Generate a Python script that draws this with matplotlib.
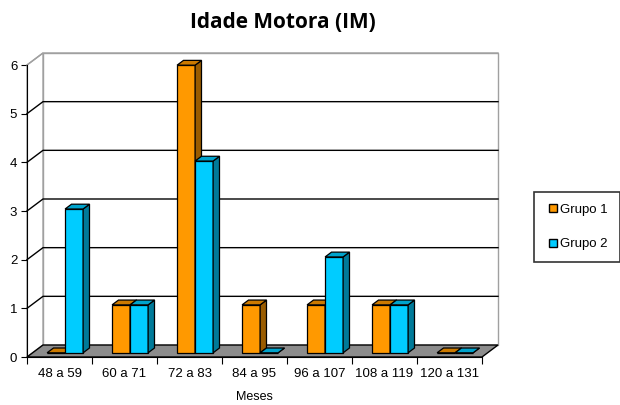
import numpy as np
import matplotlib.pyplot as plt
from matplotlib.patches import Polygon
from matplotlib.lines import Line2D

categorias = ['48 a 59', '60 a 71', '72 a 83', '84 a 95', '96 a 107', '108 a 119', '120 a 131']
grupo1 = [0, 1, 6, 1, 1, 1, 0]
grupo2 = [3, 1, 4, 0, 2, 1, 0]
series = ['Grupo 1', 'Grupo 2']

cores = {'Grupo 1': ('#FF9900', '#CC7A00', '#9A5C00'),
         'Grupo 2': ('#00CCFF', '#00A3CC', '#007A99')}

plt.rcParams['font.family'] = ['Liberation Sans', 'DejaVu Sans']

fig = plt.figure(figsize=(6.2, 4.05), dpi=100)
ax = fig.add_axes([27 / 620, (405 - 357) / 405, 455 / 620, 292 / 405])
n = len(categorias)
ymax = 6
ax.set_xlim(0, n)
ax.set_ylim(0, ymax)

# depth vector of the 3d box (data units)
DX, DY = 16 / 65, 12 / (292 / 6)


def off(x, y, f):
    return (x + f * DX, y + f * DY)


# back wall, side wall, floor
ax.add_patch(Polygon([off(0, 0, 1), off(n, 0, 1), off(n, ymax, 1), off(0, ymax, 1)],
                     closed=True, fc='white', ec='#a0a0a0', lw=1, clip_on=False, zorder=1))
ax.add_patch(Polygon([(0, 0), off(0, 0, 1), off(0, ymax, 1), (0, ymax)],
                     closed=True, fc='white', ec='#a0a0a0', lw=1, clip_on=False, zorder=1))
for v in range(1, ymax + 1):
    c = 'black' if v < ymax else '#a0a0a0'
    ax.add_line(Line2D([0, DX, n + DX], [v, v + DY, v + DY], color=c, lw=1,
                       clip_on=False, zorder=2))
ax.add_patch(Polygon([(0, 0), (n, 0), off(n, 0, 1), off(0, 0, 1)],
                     closed=True, fc='#8c8c8c', ec='black', lw=1, clip_on=False, zorder=3))

# bars (sit a bit lower than the wall scale, like the excel perspective)
w = 0.277
f0, f1 = 0.35, 0.75
hs = 0.985
z = 4
for i in range(n):
    for k, (nome, vals) in enumerate(zip(series, [grupo1, grupo2])):
        h = vals[i] * hs
        x0 = i + 0.5 - w + k * w
        x1 = x0 + w
        front, top, side = cores[nome]
        ax.add_patch(Polygon([off(x0, 0, f0), off(x1, 0, f0), off(x1, h, f0), off(x0, h, f0)],
                             closed=True, fc=front, ec='black', lw=0.9, clip_on=False, zorder=z))
        ax.add_patch(Polygon([off(x1, 0, f0), off(x1, 0, f1), off(x1, h, f1), off(x1, h, f0)],
                             closed=True, fc=side, ec='black', lw=0.9, clip_on=False, zorder=z))
        ax.add_patch(Polygon([off(x0, h, f0), off(x1, h, f0), off(x1, h, f1), off(x0, h, f1)],
                             closed=True, fc=top, ec='black', lw=0.9, clip_on=False, zorder=z))
        z += 1

for s in ['top', 'right']:
    ax.spines[s].set_visible(False)
ax.spines['left'].set_zorder(20)
ax.spines['bottom'].set_zorder(20)
ax.set_facecolor('none')

ax.set_yticks(range(0, ymax + 1))
ax.tick_params(axis='y', length=4, labelsize=9.5, colors='black', pad=3)
ax.set_xticks(np.arange(n + 1), minor=False)
ax.set_xticklabels([])
ax.set_xticks(np.arange(n) + 0.5, minor=True)
ax.set_xticklabels(categorias, minor=True, fontsize=9.5)
ax.tick_params(axis='x', which='major', length=5)
ax.tick_params(axis='x', which='minor', length=0, pad=8)
ax.set_xlabel('Meses', fontsize=9, labelpad=8)

fig.text(283 / 620, 1 - 22 / 405, 'Idade Motora (IM)', ha='center', va='center',
         fontsize=15, fontweight='bold', family=['Open Sans', 'DejaVu Sans'])

handles = [Line2D([], [], marker='s', ls='none', mfc=cores[s][0], mec='black',
                  markersize=6, label=s) for s in series]
leg = fig.legend(handles=handles, loc='center', bbox_to_anchor=(577 / 620, 1 - 227 / 405),
                 frameon=True, fancybox=False, edgecolor='black', fontsize=9.5,
                 handletextpad=0.1, labelspacing=1.7, borderpad=0.9, handlelength=1.0)
leg.get_frame().set_linewidth(1.2)

fig.savefig('out.png', dpi=100)
